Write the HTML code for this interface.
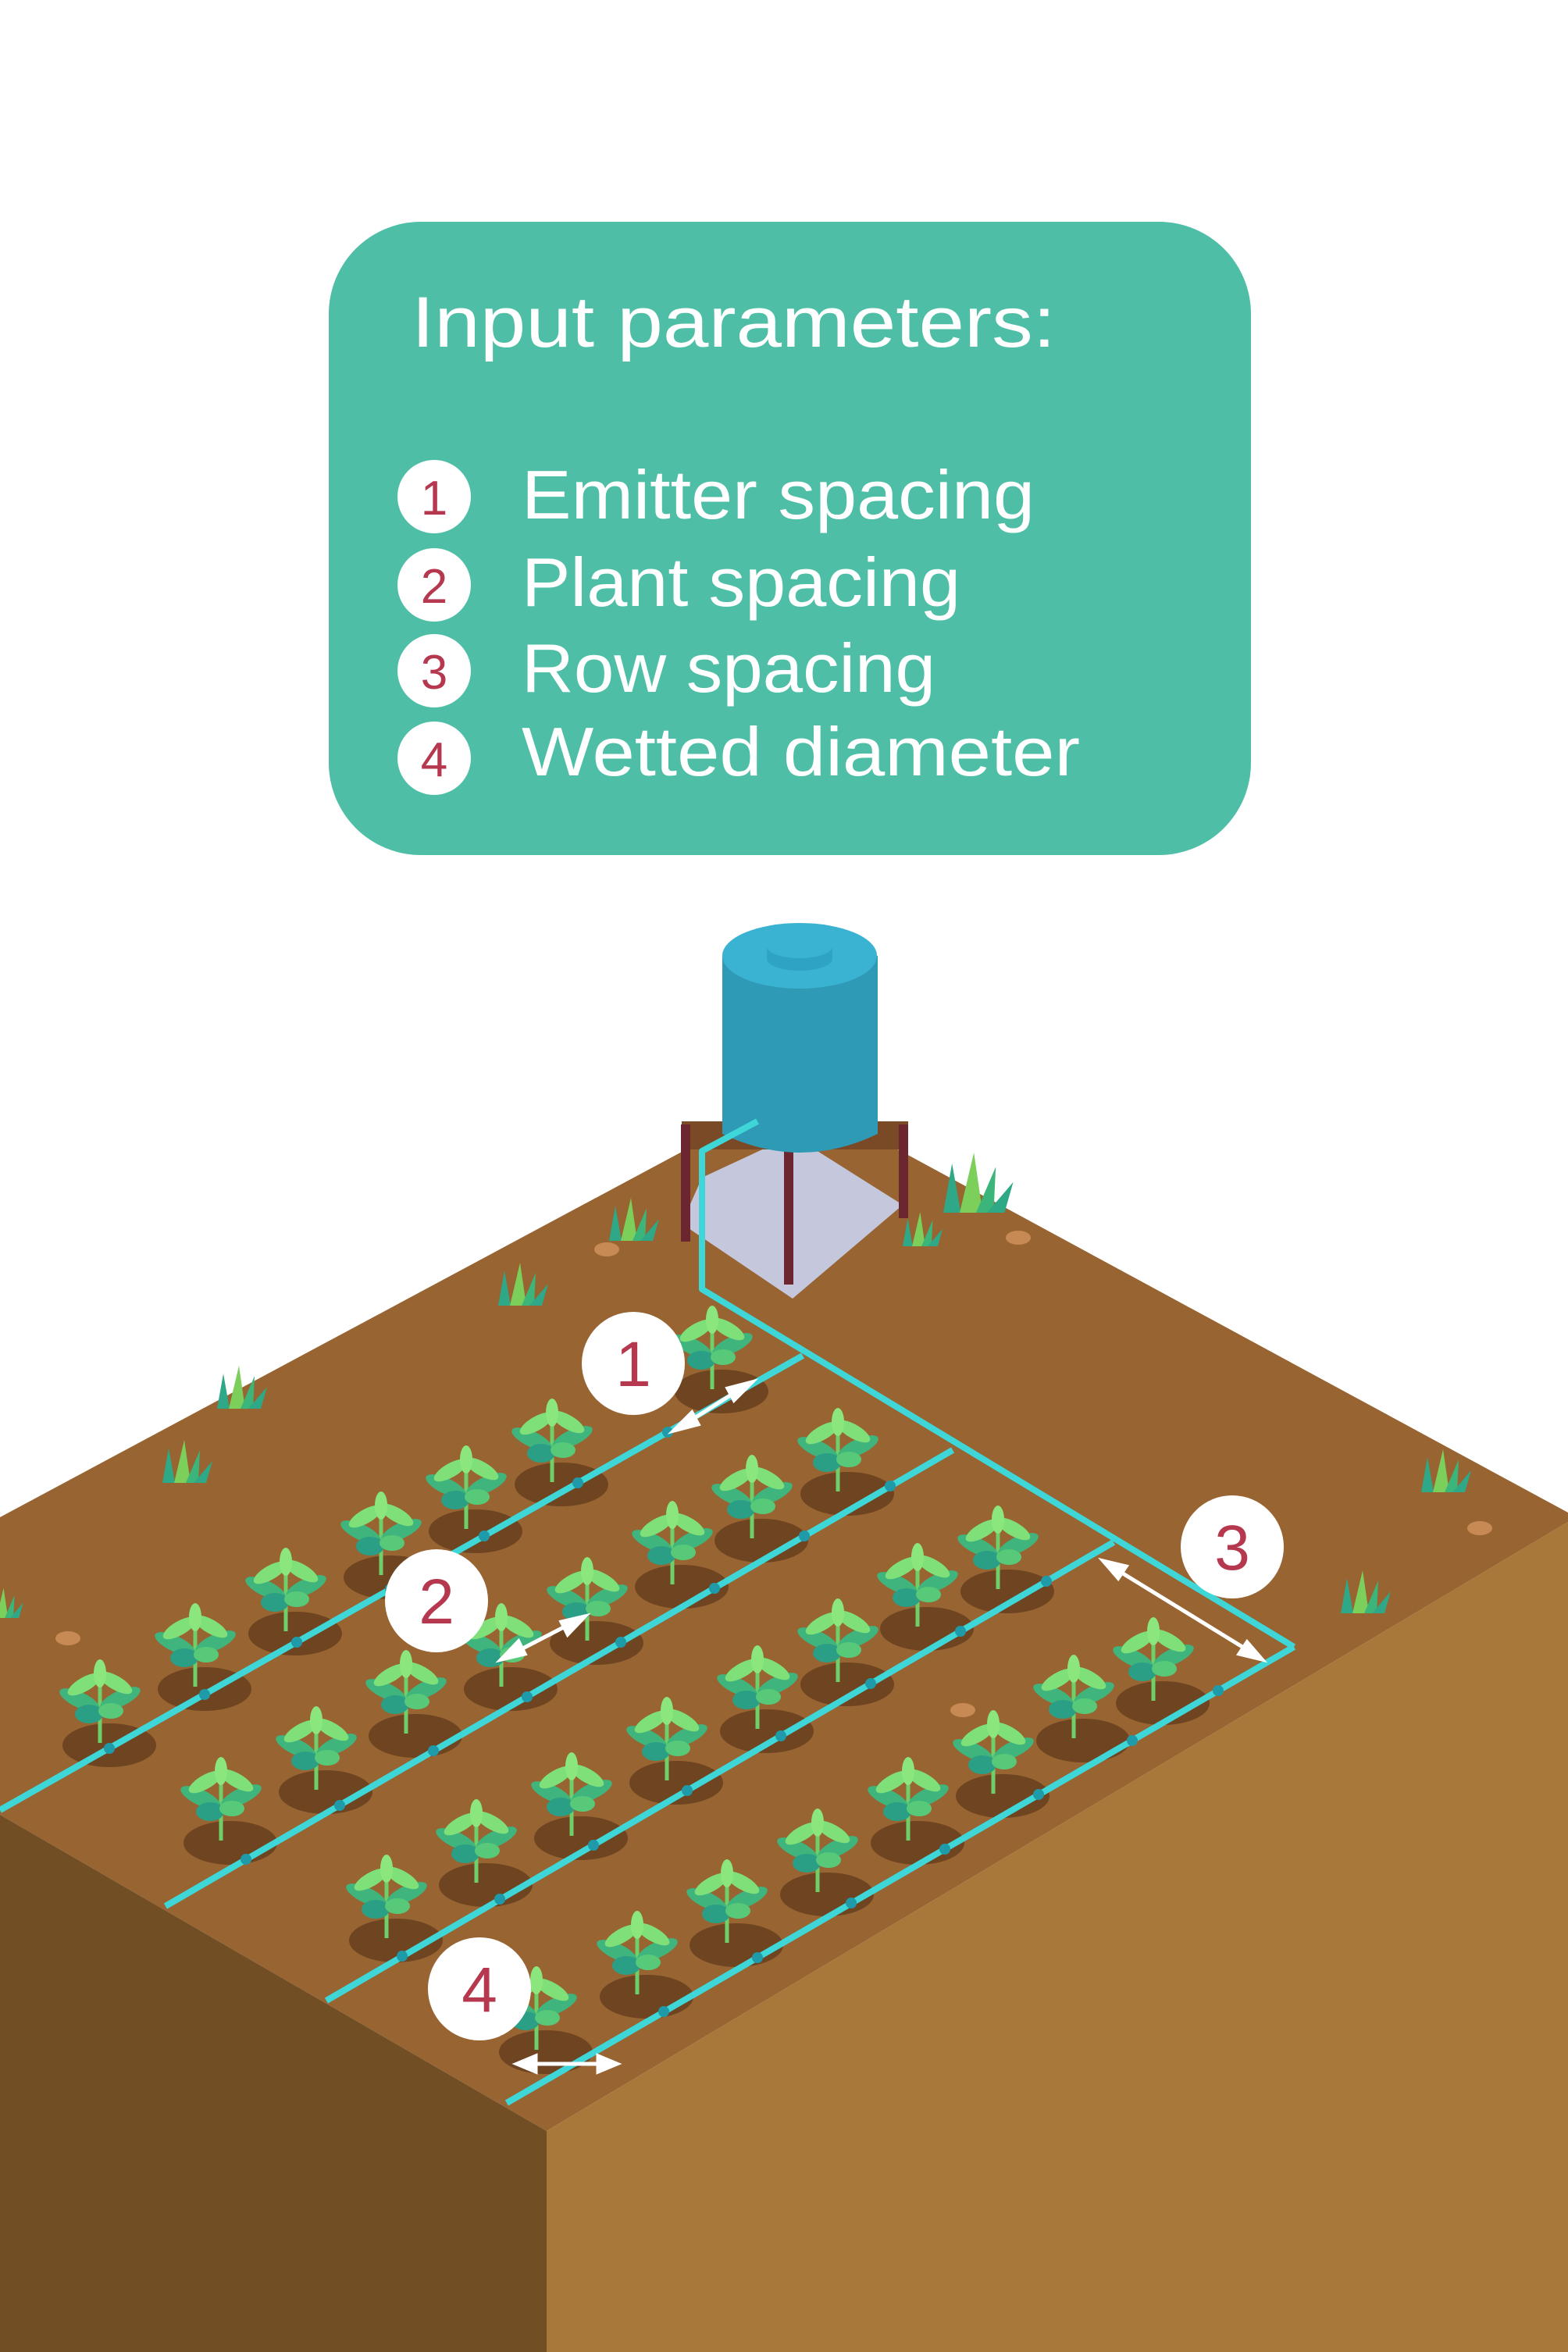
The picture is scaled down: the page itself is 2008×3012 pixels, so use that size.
<!DOCTYPE html>
<html><head><meta charset="utf-8"><style>
html,body{margin:0;padding:0;background:#fff;}
svg{display:block;}
</style></head><body>
<svg width="2008" height="3012" viewBox="0 0 2008 3012" xmlns="http://www.w3.org/2000/svg">
<defs>
<g id="plant">
  <ellipse cx="12" cy="48" rx="60" ry="28" fill="#6e4421"/>
  <line x1="0" y1="45" x2="0" y2="-35" stroke="#6fd06a" stroke-width="5"/>
  <ellipse cx="-26" cy="-10" rx="28" ry="10" fill="#3fb57d" transform="rotate(25 -26 -10)"/>
  <ellipse cx="26" cy="-12" rx="28" ry="10" fill="#3fb57d" transform="rotate(-25 26 -12)"/>
  <ellipse cx="-20" cy="-30" rx="24" ry="9" fill="#7fe07a" transform="rotate(-30 -20 -30)"/>
  <ellipse cx="20" cy="-32" rx="24" ry="9" fill="#7fe07a" transform="rotate(30 20 -32)"/>
  <ellipse cx="0" cy="-44" rx="8" ry="18" fill="#8be67e"/>
  <ellipse cx="-14" cy="8" rx="18" ry="12" fill="#2b9f86"/>
  <ellipse cx="14" cy="4" rx="16" ry="10" fill="#58c978"/>
</g>
<g id="grass">
  <path d="M-30 20 L-22 -25 L-14 20 Z" fill="#2ea886"/>
  <path d="M-15 20 L-2 -35 L6 20 Z" fill="#7ccf5a"/>
  <path d="M0 20 L18 -22 L16 20 Z" fill="#3bb57a"/>
  <path d="M10 20 L34 -8 L26 20 Z" fill="#2ea886"/>
</g>
</defs>

<!-- teal box -->
<rect x="421" y="284" width="1181" height="811" rx="118" ry="118" fill="#4ebfa6"/>
<text x="527" y="444" font-family="Liberation Sans, sans-serif" font-size="92" fill="#fff" textLength="825" lengthAdjust="spacingAndGlyphs">Input parameters:</text>
<g font-family="Liberation Sans, sans-serif" fill="#fff">
<circle cx="556" cy="636" r="47" fill="#fff"/><text x="556" y="659" font-size="62" fill="#b5384f" text-anchor="middle">1</text>
<circle cx="556" cy="749" r="47" fill="#fff"/><text x="556" y="772" font-size="62" fill="#b5384f" text-anchor="middle">2</text>
<circle cx="556" cy="859" r="47" fill="#fff"/><text x="556" y="882" font-size="62" fill="#b5384f" text-anchor="middle">3</text>
<circle cx="556" cy="971" r="47" fill="#fff"/><text x="556" y="994" font-size="62" fill="#b5384f" text-anchor="middle">4</text>
<text x="668" y="664" font-size="88" textLength="657" lengthAdjust="spacingAndGlyphs">Emitter spacing</text>
<text x="668" y="776" font-size="88" textLength="562" lengthAdjust="spacingAndGlyphs">Plant spacing</text>
<text x="668" y="886" font-size="88" textLength="530" lengthAdjust="spacingAndGlyphs">Row spacing</text>
<text x="668" y="993" font-size="88" textLength="715" lengthAdjust="spacingAndGlyphs">Wetted diameter</text>
</g>

<!-- ground -->
<polygon points="0,1943 1015,1399 2008,1937 2008,1949 700,2729 0,2324" fill="#976432"/>
<polygon points="0,2324 700,2729 700,3012 0,3012" fill="#714e23"/>
<polygon points="700,2729 2008,1949 2008,3012 700,3012" fill="#a8773a"/>

<!-- pebbles -->
<g fill="#c88a55">
<ellipse cx="777" cy="1600" rx="16" ry="9"/>
<ellipse cx="1304" cy="1585" rx="16" ry="9"/>
<ellipse cx="87" cy="2098" rx="16" ry="9"/>
<ellipse cx="1233" cy="2190" rx="16" ry="9"/>
<ellipse cx="1895" cy="1957" rx="16" ry="9"/>
</g>
<!-- grass -->
<use href="#grass" transform="translate(810,1569)"/>
<use href="#grass" transform="translate(668,1652)"/>
<use href="#grass" transform="translate(308,1784)"/>
<use href="#grass" transform="translate(238,1879)"/>
<use href="#grass" transform="translate(1250,1525) scale(1.4)"/>
<use href="#grass" transform="translate(1180,1580) scale(0.8)"/>
<use href="#grass" transform="translate(1850,1891)"/>
<use href="#grass" transform="translate(1747,2046)"/>
<use href="#grass" transform="translate(6,2058) scale(0.7)"/>

<!-- stand base -->
<polygon points="873,1567 899,1508 1015,1454 1156,1543 1015,1663" fill="#c5c8dc"/>
<rect x="873" y="1436" width="290" height="36" fill="#7a4a26"/>
<g stroke="#6b2630" stroke-width="12">
<line x1="878" y1="1440" x2="878" y2="1590"/>
<line x1="1010" y1="1470" x2="1010" y2="1645"/>
<line x1="1157" y1="1440" x2="1157" y2="1560"/>
</g>
<!-- tank -->
<path d="M925 1224 L925 1452 Q1025 1500 1124 1452 L1124 1224 Z" fill="#2e9ab6"/>
<ellipse cx="1024" cy="1224" rx="99" ry="42" fill="#3ab3d2"/>
<rect x="982" y="1212" width="84" height="16" fill="#2ea3c3"/>
<ellipse cx="1024" cy="1228" rx="42" ry="15" fill="#2ea3c3"/>
<ellipse cx="1024" cy="1212" rx="42" ry="15" fill="#3ab3d2"/>

<!-- pipes -->
<g stroke="#3fd6d8" stroke-width="8" fill="none" stroke-linejoin="round">
<polyline points="970,1436 899,1474 899,1651 1657,2109"/>
<line x1="1028" y1="1736" x2="0" y2="2318"/>
<line x1="1220" y1="1857" x2="212" y2="2441"/>
<line x1="1426" y1="1975" x2="418" y2="2562"/>
<line x1="1657" y1="2109" x2="649" y2="2693"/>
</g>

<!-- plants -->
<g>
<use href="#plant" x="128" y="2187"/><use href="#plant" x="250" y="2115"/><use href="#plant" x="366" y="2044"/><use href="#plant" x="488" y="1972"/><use href="#plant" x="597" y="1913"/><use href="#plant" x="707" y="1853"/><use href="#plant" x="912" y="1734"/>
<use href="#plant" x="283" y="2312"/><use href="#plant" x="405" y="2247"/><use href="#plant" x="520" y="2175"/><use href="#plant" x="642" y="2115"/><use href="#plant" x="752" y="2056"/><use href="#plant" x="861" y="1984"/><use href="#plant" x="963" y="1925"/><use href="#plant" x="1073" y="1865"/>
<use href="#plant" x="495" y="2437"/><use href="#plant" x="610" y="2366"/><use href="#plant" x="732" y="2306"/><use href="#plant" x="854" y="2235"/><use href="#plant" x="970" y="2169"/><use href="#plant" x="1073" y="2109"/><use href="#plant" x="1175" y="2038"/><use href="#plant" x="1278" y="1990"/>
<use href="#plant" x="687" y="2580"/><use href="#plant" x="816" y="2509"/><use href="#plant" x="931" y="2443"/><use href="#plant" x="1047" y="2378"/><use href="#plant" x="1163" y="2312"/><use href="#plant" x="1272" y="2252"/><use href="#plant" x="1375" y="2181"/><use href="#plant" x="1477" y="2133"/>
</g>
<g stroke="#3fd6d8" stroke-width="8" fill="none">
<line x1="1028" y1="1736" x2="0" y2="2318"/>
<line x1="1220" y1="1857" x2="212" y2="2441"/>
<line x1="1426" y1="1975" x2="418" y2="2562"/>
<line x1="1657" y1="2109" x2="649" y2="2693"/>
</g>
<!-- emitters -->
<g fill="#1f9aa8">
<circle cx="140" cy="2239" r="7"/><circle cx="262" cy="2170" r="7"/><circle cx="380" cy="2103" r="7"/><circle cx="500" cy="2035" r="7"/><circle cx="620" cy="1967" r="7"/><circle cx="740" cy="1899" r="7"/><circle cx="855" cy="1834" r="7"/>
<circle cx="315" cy="2381" r="7"/><circle cx="435" cy="2312" r="7"/><circle cx="555" cy="2242" r="7"/><circle cx="675" cy="2173" r="7"/><circle cx="795" cy="2103" r="7"/><circle cx="915" cy="2034" r="7"/><circle cx="1030" cy="1967" r="7"/><circle cx="1140" cy="1903" r="7"/>
<circle cx="515" cy="2505" r="7"/><circle cx="640" cy="2432" r="7"/><circle cx="760" cy="2363" r="7"/><circle cx="880" cy="2293" r="7"/><circle cx="1000" cy="2223" r="7"/><circle cx="1115" cy="2156" r="7"/><circle cx="1230" cy="2089" r="7"/><circle cx="1340" cy="2025" r="7"/>
<circle cx="850" cy="2576" r="7"/><circle cx="970" cy="2507" r="7"/><circle cx="1090" cy="2437" r="7"/><circle cx="1210" cy="2368" r="7"/><circle cx="1330" cy="2298" r="7"/><circle cx="1450" cy="2229" r="7"/><circle cx="1560" cy="2165" r="7"/>
</g>

<!-- arrows -->
<g stroke="#fff" stroke-width="5" fill="#fff">
<line x1="875" y1="1825" x2="951" y2="1777"/>
<polygon points="863,1832 886,1809 894,1824"/><polygon points="963,1770 940,1793 932,1778"/>
<line x1="654" y1="2119" x2="737" y2="2076"/>
<polygon points="642,2125 664,2102 672,2118"/><polygon points="749,2070 727,2093 719,2077"/>
<line x1="1425" y1="2007" x2="1604" y2="2117"/>
<polygon points="1413,1999 1442,2006 1432,2021"/><polygon points="1616,2125 1597,2103 1587,2118"/>
<line x1="676" y1="2643" x2="776" y2="2643"/>
<polygon points="662,2643 686,2633 686,2653"/><polygon points="790,2643 766,2633 766,2653"/>
</g>

<!-- number badges -->
<g font-family="Liberation Sans, sans-serif" font-size="82" fill="#b5384f" text-anchor="middle">
<circle cx="811" cy="1746" r="66" fill="#fff"/><text x="811" y="1775">1</text>
<circle cx="559" cy="2050" r="66" fill="#fff"/><text x="559" y="2079">2</text>
<circle cx="1578" cy="1981" r="66" fill="#fff"/><text x="1578" y="2010">3</text>
<circle cx="614" cy="2547" r="66" fill="#fff"/><text x="614" y="2576">4</text>
</g>
</svg>
</body></html>
